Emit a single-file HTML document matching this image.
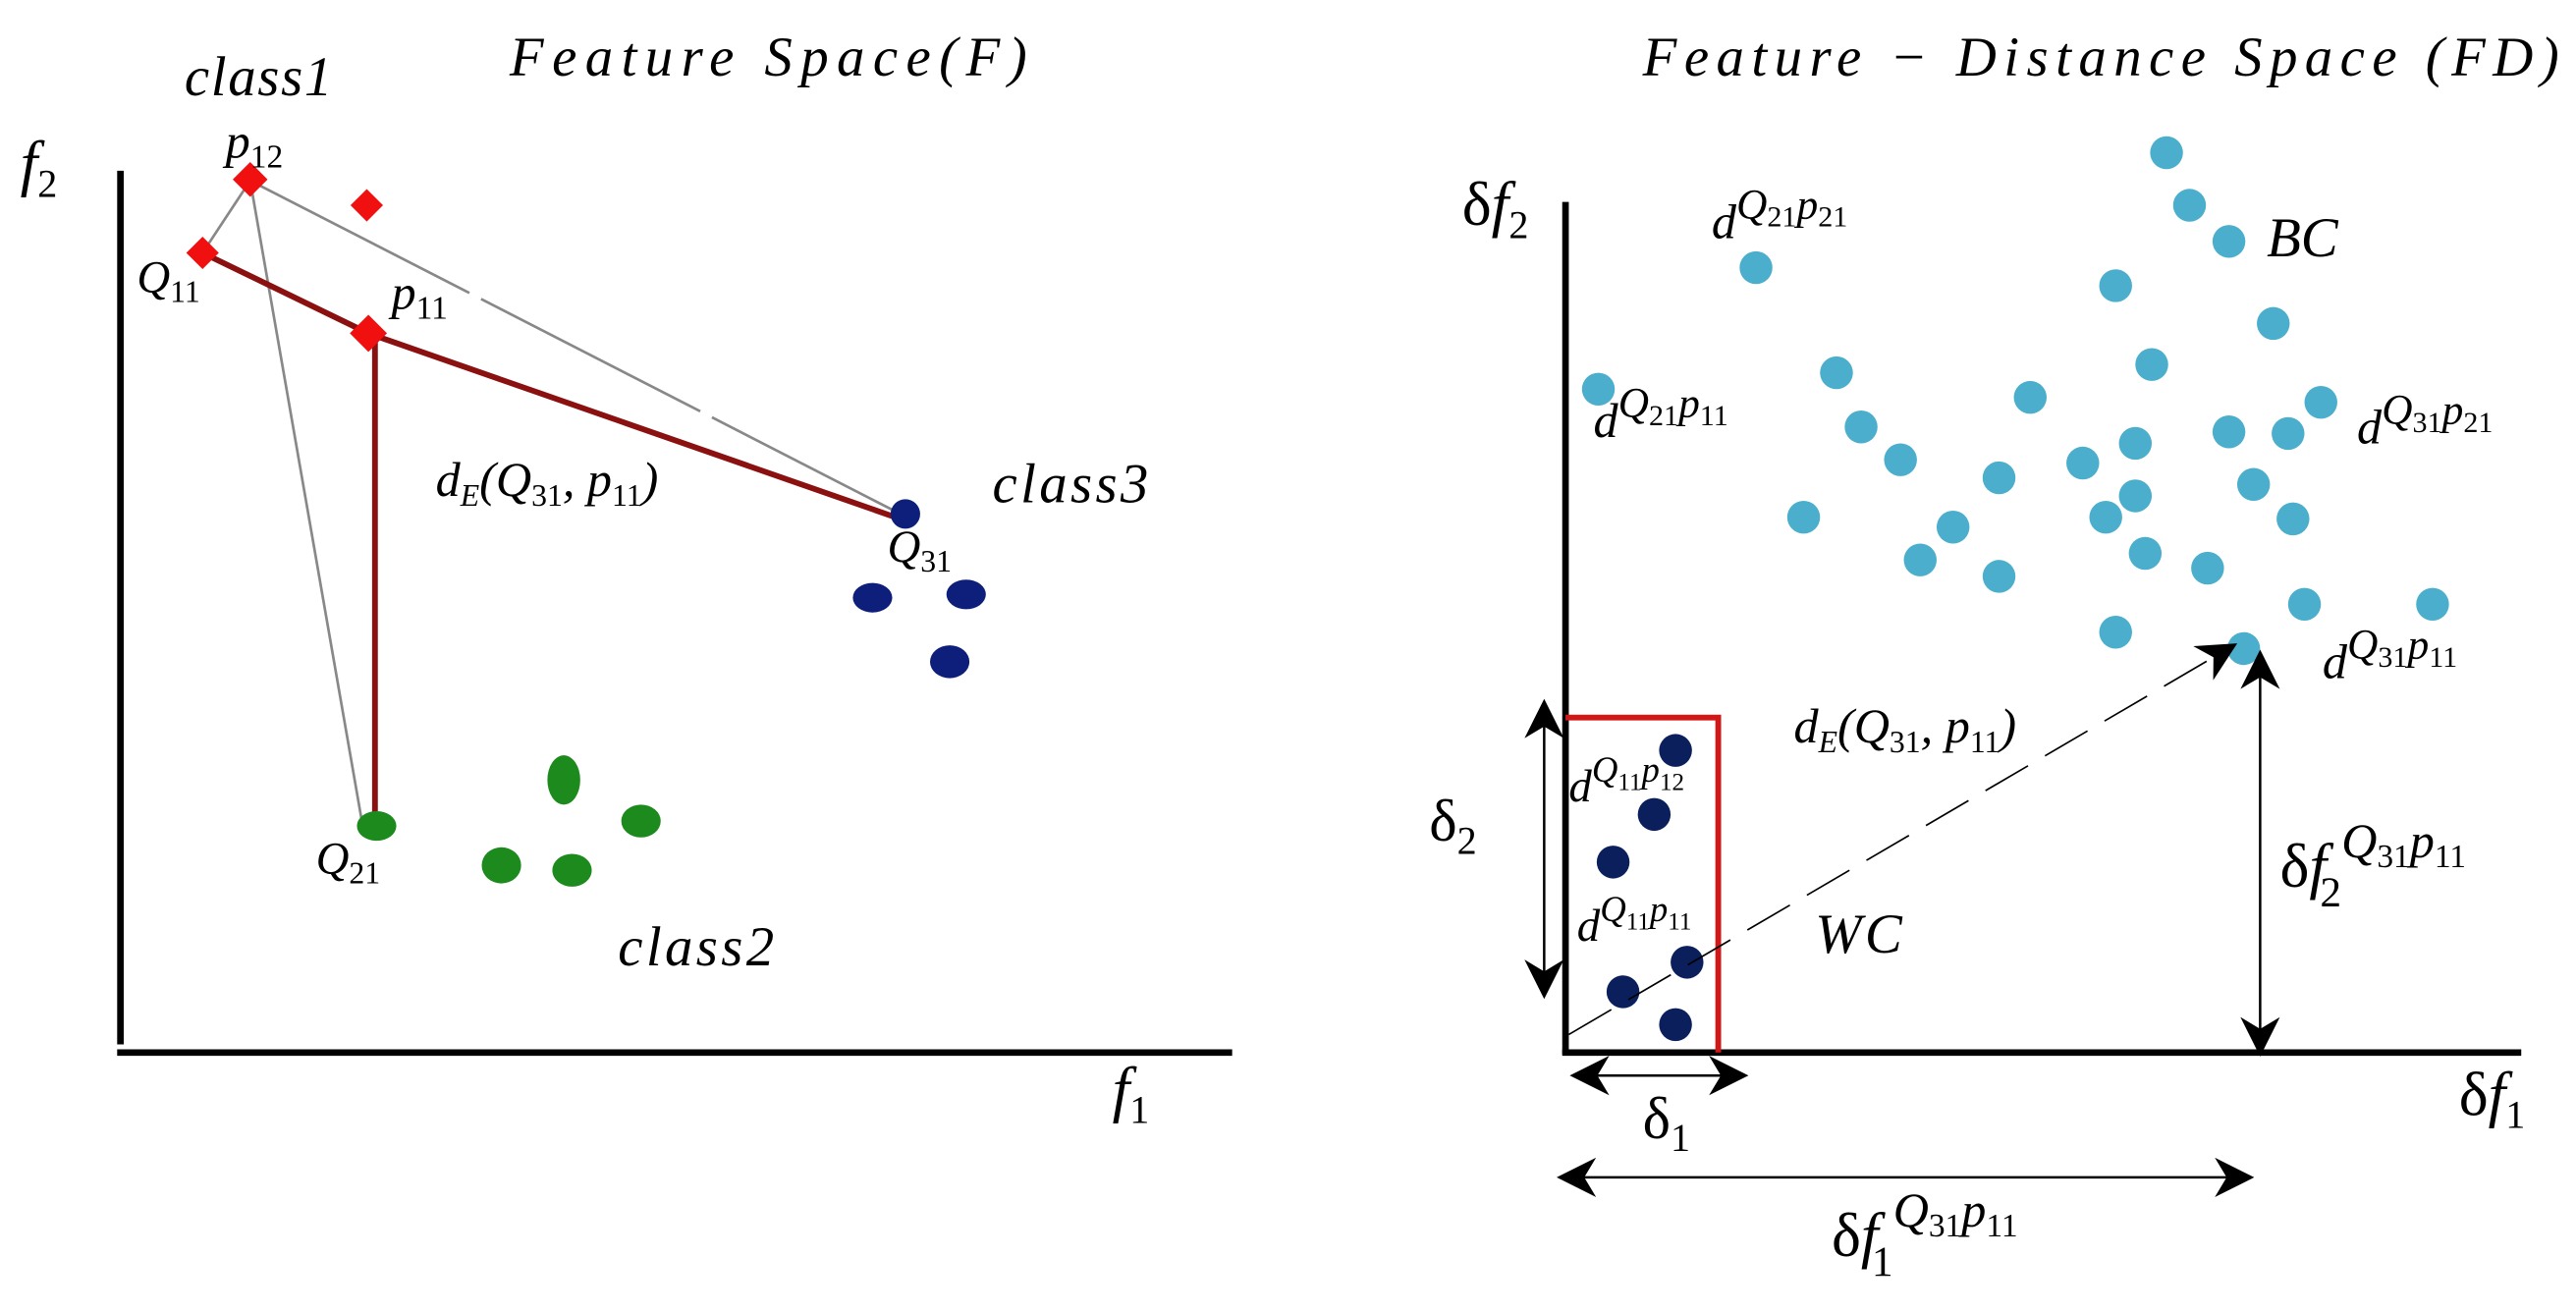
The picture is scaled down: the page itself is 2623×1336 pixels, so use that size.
<!DOCTYPE html>
<html><head><meta charset="utf-8"><style>
html,body{margin:0;padding:0;background:#fff;}
svg{display:block;}
text{font-family:"Liberation Serif",serif;font-style:italic;fill:#000;}
</style></head><body>
<svg width="2623" height="1336" viewBox="0 0 1568 799" xmlns="http://www.w3.org/2000/svg">
<defs>
<marker id="ahb" viewBox="0 0 10 10" refX="9" refY="5" markerWidth="24" markerHeight="24" orient="auto-start-reverse" markerUnits="userSpaceOnUse">
<path d="M0,0 L10,5 L0,10 L3,5 z" fill="#000"/></marker>
</defs>
<text x="310" y="46" font-size="34" textLength="315" lengthAdjust="spacing">Feature  Space(F)</text>
<text x="1000" y="46" font-size="34" textLength="558" lengthAdjust="spacing">Feature − Distance  Space  (FD)</text>

<line x1="73" y1="104" x2="73" y2="636" stroke="#000" stroke-width="4"/>
<line x1="71" y1="641" x2="750" y2="641" stroke="#000" stroke-width="4"/>
<text x="12" y="112" font-size="38">f<tspan font-size="24" dy="8" font-style="normal">2</tspan></text>
<text x="677" y="676" font-size="38">f<tspan font-size="24" dy="8" font-style="normal">1</tspan></text>

<g stroke="#888" stroke-width="1.6" fill="none">
<line x1="152" y1="110" x2="123" y2="154"/>
<line x1="152" y1="110" x2="548" y2="313" stroke-dasharray="150,8"/>
<line x1="152" y1="110" x2="220" y2="500"/>
</g>
<g stroke="#8b1010" stroke-width="3.5" fill="none">
<line x1="123" y1="154" x2="224" y2="203"/>
<line x1="224" y1="203" x2="545" y2="315"/>
<line x1="228" y1="203" x2="228" y2="500"/>
</g>
<g fill="#f01010">
<rect x="144" y="102" width="15" height="15" transform="rotate(45 152 110)"/>
<rect x="216" y="118" width="14" height="14" transform="rotate(45 223 125)"/>
<rect x="116" y="147" width="14" height="14" transform="rotate(45 123 154)"/>
<rect x="216" y="195" width="16" height="16" transform="rotate(45 224 203)"/>
</g>
<g fill="#1c8a1c">
<ellipse cx="229" cy="503" rx="12" ry="9"/>
<ellipse cx="343" cy="475" rx="10" ry="15"/>
<ellipse cx="390" cy="500" rx="12" ry="10"/>
<ellipse cx="305" cy="527" rx="12" ry="11"/>
<ellipse cx="348" cy="530" rx="12" ry="10"/>
</g>
<g fill="#0d1f7a">
<ellipse cx="551" cy="313" rx="9" ry="9"/>
<ellipse cx="531" cy="364" rx="12" ry="9"/>
<ellipse cx="588" cy="362" rx="12" ry="9"/>
<ellipse cx="578" cy="403" rx="12" ry="10"/>
</g>
<text x="112" y="58" font-size="34" letter-spacing="1">class1</text>
<text x="137" y="96" font-size="30">p<tspan font-size="20" dy="6" font-style="normal">12</tspan></text>
<text x="83" y="178" font-size="28">Q<tspan font-size="19" dy="6" font-style="normal">11</tspan></text>
<text x="238" y="188" font-size="30">p<tspan font-size="20" dy="6" font-style="normal">11</tspan></text>
<text x="265" y="302" font-size="30">d<tspan font-size="19" dy="6">E</tspan><tspan dy="-6">(Q</tspan><tspan font-size="19" dy="6" font-style="normal">31</tspan><tspan dy="-6">, p</tspan><tspan font-size="19" dy="6" font-style="normal">11</tspan><tspan dy="-6">)</tspan></text>
<text x="604" y="306" font-size="34" letter-spacing="2">class3</text>
<text x="540" y="342" font-size="28">Q<tspan font-size="19" dy="6" font-style="normal">31</tspan></text>
<text x="192" y="532" font-size="28">Q<tspan font-size="19" dy="6" font-style="normal">21</tspan></text>
<text x="376" y="588" font-size="34" letter-spacing="2">class2</text>

<line x1="953" y1="123" x2="953" y2="642" stroke="#000" stroke-width="4"/>
<line x1="951" y1="641" x2="1535" y2="641" stroke="#000" stroke-width="4"/>
<text x="890" y="137" font-size="38"><tspan font-style="normal">δ</tspan>f<tspan font-size="24" dy="8" font-style="normal">2</tspan></text>
<text x="1497" y="679" font-size="38"><tspan font-style="normal">δ</tspan>f<tspan font-size="24" dy="8" font-style="normal">1</tspan></text>

<g fill="#4aaecc">
<circle cx="1319" cy="93" r="10"/><circle cx="1333" cy="125" r="10"/><circle cx="1357" cy="147" r="10"/>
<circle cx="1069" cy="163" r="10"/><circle cx="1288" cy="174" r="10"/><circle cx="1384" cy="197" r="10"/>
<circle cx="1310" cy="222" r="10"/><circle cx="1118" cy="227" r="10"/><circle cx="1236" cy="242" r="10"/>
<circle cx="1413" cy="245" r="10"/><circle cx="973" cy="237" r="10"/><circle cx="1133" cy="260" r="10"/>
<circle cx="1300" cy="270" r="10"/><circle cx="1357" cy="263" r="10"/><circle cx="1393" cy="264" r="10"/>
<circle cx="1157" cy="280" r="10"/><circle cx="1268" cy="282" r="10"/><circle cx="1217" cy="291" r="10"/>
<circle cx="1372" cy="295" r="10"/><circle cx="1300" cy="302" r="10"/><circle cx="1098" cy="315" r="10"/>
<circle cx="1282" cy="315" r="10"/><circle cx="1396" cy="316" r="10"/><circle cx="1189" cy="321" r="10"/>
<circle cx="1306" cy="337" r="10"/><circle cx="1169" cy="341" r="10"/><circle cx="1344" cy="346" r="10"/>
<circle cx="1217" cy="351" r="10"/><circle cx="1403" cy="368" r="10"/><circle cx="1481" cy="368" r="10"/>
<circle cx="1288" cy="385" r="10"/><circle cx="1366" cy="395" r="10"/>
</g>
<polyline points="953,437 1046,437 1046,641" fill="none" stroke="#d01818" stroke-width="3.5"/>
<g fill="#0a1f5c">
<circle cx="1020" cy="457" r="10"/><circle cx="1007" cy="496" r="10"/><circle cx="982" cy="525" r="10"/>
<circle cx="1027" cy="586" r="10"/><circle cx="988" cy="604" r="10"/><circle cx="1020" cy="624" r="10"/>
</g>
<line x1="955" y1="630" x2="1360" y2="393" stroke="#000" stroke-width="1" stroke-dasharray="30,12" marker-end="url(#ahb)"/>
<g stroke="#000" stroke-width="1.5" fill="none">
<line x1="940" y1="428" x2="940" y2="606" marker-start="url(#ahb)" marker-end="url(#ahb)"/>
<line x1="958" y1="655" x2="1062" y2="655" marker-start="url(#ahb)" marker-end="url(#ahb)"/>
<line x1="950" y1="717" x2="1370" y2="717" marker-start="url(#ahb)" marker-end="url(#ahb)"/>
<line x1="1376" y1="398" x2="1376" y2="641" marker-start="url(#ahb)" marker-end="url(#ahb)"/>
</g>
<text x="1042" y="145" font-size="30">d<tspan font-size="26" dy="-12">Q</tspan><tspan font-size="18" dy="5" font-style="normal">21</tspan><tspan font-size="26" dy="-5">p</tspan><tspan font-size="18" dy="5" font-style="normal">21</tspan></text>
<text x="970" y="266" font-size="30">d<tspan font-size="26" dy="-12">Q</tspan><tspan font-size="18" dy="5" font-style="normal">21</tspan><tspan font-size="26" dy="-5">p</tspan><tspan font-size="18" dy="5" font-style="normal">11</tspan></text>
<text x="1380" y="156" font-size="34">BC</text>
<text x="1435" y="270" font-size="30">d<tspan font-size="26" dy="-12">Q</tspan><tspan font-size="18" dy="5" font-style="normal">31</tspan><tspan font-size="26" dy="-5">p</tspan><tspan font-size="18" dy="5" font-style="normal">21</tspan></text>
<text x="1414" y="413" font-size="30">d<tspan font-size="26" dy="-12">Q</tspan><tspan font-size="18" dy="5" font-style="normal">31</tspan><tspan font-size="26" dy="-5">p</tspan><tspan font-size="18" dy="5" font-style="normal">11</tspan></text>
<text x="1092" y="452" font-size="30">d<tspan font-size="19" dy="6">E</tspan><tspan dy="-6">(Q</tspan><tspan font-size="19" dy="6" font-style="normal">31</tspan><tspan dy="-6">, p</tspan><tspan font-size="19" dy="6" font-style="normal">11</tspan><tspan dy="-6">)</tspan></text>
<text x="955" y="488" font-size="28">d<tspan font-size="22" dy="-12">Q</tspan><tspan font-size="15" dy="5" font-style="normal">11</tspan><tspan font-size="22" dy="-5">p</tspan><tspan font-size="15" dy="5" font-style="normal">12</tspan></text>
<text x="960" y="573" font-size="28">d<tspan font-size="22" dy="-12">Q</tspan><tspan font-size="15" dy="5" font-style="normal">11</tspan><tspan font-size="22" dy="-5">p</tspan><tspan font-size="15" dy="5" font-style="normal">11</tspan></text>
<text x="1105" y="580" font-size="34" letter-spacing="2">WC</text>
<text x="870" y="512" font-size="36"><tspan font-style="normal">δ</tspan><tspan font-size="24" dy="8" font-style="normal">2</tspan></text>
<text x="1000" y="693" font-size="36"><tspan font-style="normal">δ</tspan><tspan font-size="24" dy="8" font-style="normal">1</tspan></text>
<text x="1388" y="540" font-size="38"><tspan font-style="normal">δ</tspan>f<tspan font-size="26" dx="-4" dy="12" font-style="normal">2</tspan><tspan font-size="30" dy="-30">Q</tspan><tspan font-size="20" dy="6" font-style="normal">31</tspan><tspan font-size="30" dy="-6">p</tspan><tspan font-size="20" dy="6" font-style="normal">11</tspan></text>
<text x="1115" y="765" font-size="38"><tspan font-style="normal">δ</tspan>f<tspan font-size="26" dx="-4" dy="12" font-style="normal">1</tspan><tspan font-size="30" dy="-30">Q</tspan><tspan font-size="20" dy="6" font-style="normal">31</tspan><tspan font-size="30" dy="-6">p</tspan><tspan font-size="20" dy="6" font-style="normal">11</tspan></text>
</svg>
</body></html>
